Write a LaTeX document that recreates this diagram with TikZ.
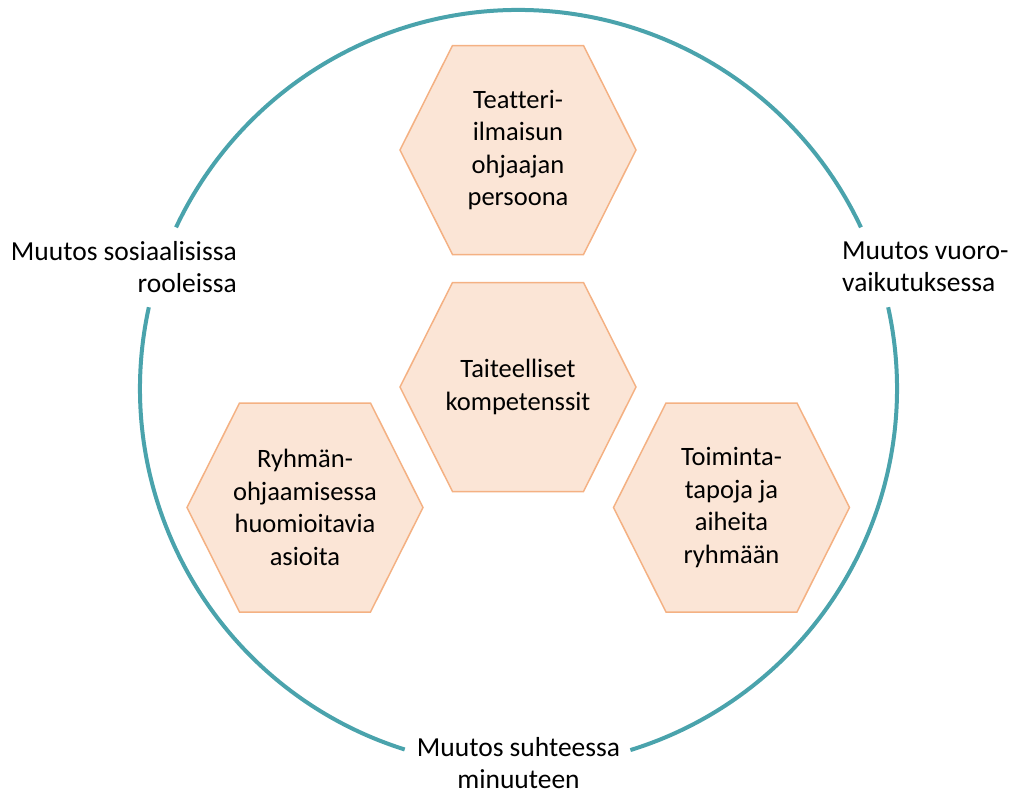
\documentclass[tikz,border=0pt]{standalone}
\usepackage{fontspec}
\setmainfont{Carlito}[Ligatures=NoCommon]

\definecolor{ringteal}{HTML}{4AA3AC}
\definecolor{hexfill}{HTML}{FBE5D6}
\definecolor{hexline}{HTML}{F4B183}

\begin{document}
\begin{tikzpicture}[x=1pt, y=1pt,
   ring/.style={draw=ringteal, line width=4pt},
   hexa/.style={draw=hexline, fill=hexfill, line width=1.5pt},
   hextext/.style={align=center, inner sep=0pt, font=\fontsize{26.5}{32.5}\selectfont},
   lbl/.style={inner sep=0pt, font=\fontsize{27.5}{32}\selectfont}]
   \useasboundingbox (0,0) rectangle (1013,-796);
   \coordinate (mid) at (518.5,-388.5);
   % ring, broken where the labels sit
   \foreach \from/\to in {25.2/154.8, 167.6/252.5, 287.2/372.4}
   \draw[ring] (mid) ++(\from:378.5pt) arc[start angle=\from, end angle=\to, radius=378.5pt];
   \foreach \pos/\name/\disp in {{(518,-150)/persoona/Teatteri-\\ilmaisun\\ohjaajan\\persoona}, {(518,-387)/taide/Taiteelliset\\kompetenssit}, {(305,-507.5)/ryhma/Ryhmän-\\ohjaamisessa\\huomioitavia\\asioita}, {(731.5,-507.5)/toiminta/Toiminta-\\tapoja ja\\aiheita\\ryhmään}}
   {
   \draw[hexa] \pos ++(-118,0) -- ++(52.5,104.5) -- ++(131,0) -- ++(52.5,-104.5) -- ++(-52.5,-104.5) -- ++(-131,0) -- cycle;
   \node[hextext] (\name) at \pos {\disp};
   }
   \node[lbl, align=right, anchor=east] (roolit) at (237,-267) {Muutos sosiaalisissa\\rooleissa};
   \node[lbl, align=left, anchor=west] (vuoro) at (842,-267) {Muutos vuoro-\\vaikutuksessa};
   \node[lbl, align=center] (minuus) at (518.5,-763) {Muutos suhteessa\\minuuteen};
\end{tikzpicture}
\end{document}
